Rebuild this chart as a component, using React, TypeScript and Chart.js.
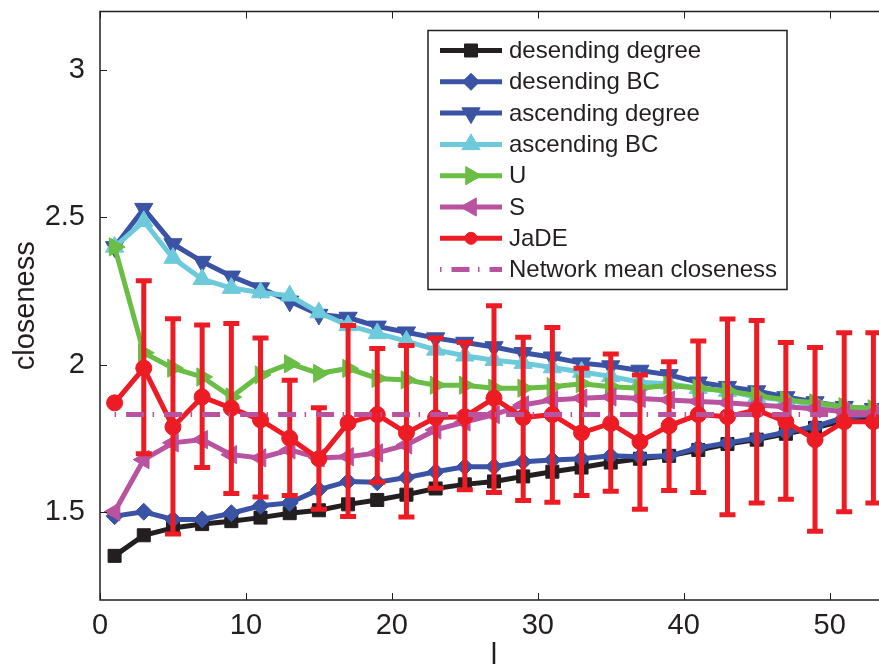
import { useEffect, useRef } from "react";
import { Chart, registerables } from "chart.js";
import { drawPoint } from "chart.js/helpers";

Chart.register(...registerables);

// ---- data ----
const lValues = [1, 3, 5, 7, 9, 11, 13, 15, 17, 19, 21, 23, 25, 27, 29, 31, 33, 35, 37, 39, 41, 43, 45, 47, 49, 51, 53];

const desendingDegree = [1.35, 1.42, 1.445, 1.458, 1.468, 1.48, 1.495, 1.505, 1.525, 1.54, 1.558, 1.579, 1.593, 1.603, 1.62, 1.636, 1.65, 1.667, 1.68, 1.69, 1.71, 1.73, 1.745, 1.765, 1.785, 1.81, 1.825];
const desendingBC = [1.485, 1.5, 1.474, 1.474, 1.495, 1.52, 1.53, 1.575, 1.603, 1.6, 1.616, 1.636, 1.653, 1.653, 1.67, 1.676, 1.68, 1.69, 1.687, 1.69, 1.717, 1.734, 1.75, 1.77, 1.79, 1.82, 1.83];
const ascendingDegree = [2.4, 2.53, 2.41, 2.35, 2.3, 2.26, 2.215, 2.17, 2.16, 2.13, 2.11, 2.09, 2.075, 2.06, 2.04, 2.025, 2.005, 1.995, 1.98, 1.965, 1.94, 1.925, 1.91, 1.89, 1.873, 1.857, 1.85];
const ascendingBC = [2.4, 2.487, 2.362, 2.29, 2.26, 2.245, 2.234, 2.177, 2.133, 2.106, 2.08, 2.05, 2.03, 2.015, 2.005, 1.99, 1.975, 1.96, 1.94, 1.935, 1.92, 1.91, 1.89, 1.88, 1.863, 1.857, 1.85];
const uValues = [2.4, 2.04, 1.988, 1.958, 1.89, 1.965, 2.003, 1.97, 1.987, 1.953, 1.948, 1.93, 1.93, 1.92, 1.92, 1.925, 1.935, 1.925, 1.92, 1.93, 1.92, 1.91, 1.895, 1.88, 1.87, 1.857, 1.85];
const sValues = [1.5, 1.677, 1.734, 1.745, 1.694, 1.683, 1.71, 1.683, 1.687, 1.7, 1.727, 1.778, 1.805, 1.83, 1.863, 1.88, 1.886, 1.89, 1.885, 1.88, 1.875, 1.87, 1.863, 1.857, 1.85, 1.84, 1.835];
const jadeValues = [1.87, 1.988, 1.788, 1.89, 1.852, 1.812, 1.75, 1.68, 1.802, 1.83, 1.768, 1.82, 1.823, 1.886, 1.82, 1.83, 1.768, 1.8, 1.738, 1.792, 1.83, 1.823, 1.846, 1.806, 1.745, 1.806, 1.806];
const jadeUpper = [1.87, 2.285, 2.156, 2.135, 2.14, 2.09, 1.947, 1.853, 2.133, 2.055, 2.065, 2.09, 2.075, 2.2, 2.093, 2.126, 1.988, 2.036, 1.965, 2.01, 2.08, 2.155, 2.15, 2.075, 2.058, 2.108, 2.108];
const jadeLower = [1.87, 1.697, 1.424, 1.65, 1.562, 1.55, 1.555, 1.508, 1.484, 1.6, 1.482, 1.58, 1.575, 1.565, 1.538, 1.532, 1.555, 1.57, 1.508, 1.572, 1.565, 1.49, 1.53, 1.542, 1.434, 1.5, 1.53];
const networkMeanCloseness = 1.83;
const meanLineRange = [1, 54];

const xTicks = [0, 10, 20, 30, 40, 50];
const yTicks = [1.5, 2, 2.5, 3];
const yTickLabels = ["1.5", "2", "2.5", "3"];

// ---- styles ----
const FONT = "'Liberation Sans', Arial, Helvetica, sans-serif";
const TEXT = "#231f20";
const BLACK = "#231f20";
const BLUE = "#3a53a4";
const CYAN = "#6dcadb";
const GREEN = "#6abd45";
const MAGENTA = "#b9529f";
const RED = "#ed1c24";
const MEAN_DASH = [1.5, 10, 18, 8.5];
const LINE_W = 5;

function series(label: string, values: number[], color: string, pointStyle: string, radius: number, rotation: number, order: number) {
  return {
    label,
    data: lValues.map((x, i) => ({ x, y: values[i] })),
    borderColor: color,
    backgroundColor: color,
    borderWidth: LINE_W,
    pointStyle,
    pointRadius: radius,
    pointRotation: rotation,
    pointBorderWidth: 1,
    pointBorderColor: color,
    pointBackgroundColor: color,
    tension: 0,
    order,
  };
}

const errorBarPlugin = {
  id: "errorBars",
  beforeDatasetDraw(chart: any, args: any) {
    const ds = chart.data.datasets[args.index];
    if (ds.label !== "JaDE") return;
    const { ctx, scales } = chart;
    const xs = scales.x;
    const ys = scales.y;
    ctx.save();
    ctx.strokeStyle = RED;
    ctx.lineWidth = LINE_W;
    ctx.lineCap = "butt";
    lValues.forEach((l, i) => {
      if (jadeUpper[i] === jadeLower[i]) return;
      const px = xs.getPixelForValue(l);
      const pt = ys.getPixelForValue(jadeUpper[i]);
      const pb = ys.getPixelForValue(jadeLower[i]);
      ctx.beginPath();
      ctx.moveTo(px, pt);
      ctx.lineTo(px, pb);
      ctx.moveTo(px - 8, pt);
      ctx.lineTo(px + 8, pt);
      ctx.moveTo(px - 8, pb);
      ctx.lineTo(px + 8, pb);
      ctx.stroke();
    });
    ctx.restore();
  },
};

const framePlugin = {
  id: "frame",
  afterDraw(chart: any) {
    const { ctx, chartArea: a, scales } = chart;
    ctx.save();
    ctx.strokeStyle = TEXT;
    ctx.lineWidth = 1.5;
    ctx.strokeRect(a.left, a.top, a.right - a.left, a.bottom - a.top);
    ctx.lineWidth = 1;
    const tl = 7;
    ctx.beginPath();
    xTicks.forEach((v) => {
      const px = Math.round(scales.x.getPixelForValue(v)) + 0.5;
      ctx.moveTo(px, a.bottom);
      ctx.lineTo(px, a.bottom - tl);
      ctx.moveTo(px, a.top);
      ctx.lineTo(px, a.top + tl);
    });
    yTicks.forEach((v) => {
      const py = Math.round(scales.y.getPixelForValue(v)) + 0.5;
      ctx.moveTo(a.left, py);
      ctx.lineTo(a.left + tl, py);
      ctx.moveTo(a.right, py);
      ctx.lineTo(a.right - tl, py);
    });
    ctx.stroke();
    ctx.restore();
  },
};

const legendPlugin = {
  id: "matlabLegend",
  afterDraw(chart: any) {
    const { ctx, chartArea: a } = chart;
    const left = a.left + 328;
    const top = a.top + 19;
    const w = 359;
    const h = 259;
    const rowH = 31.3;
    ctx.save();
    ctx.fillStyle = "#ffffff";
    ctx.fillRect(left, top, w, h);
    ctx.strokeStyle = TEXT;
    ctx.lineWidth = 1.5;
    ctx.strokeRect(left, top, w, h);
    chart.data.datasets.forEach((ds: any, i: number) => {
      const cy = top + 20 + i * rowH;
      const x0 = left + 12;
      const x1 = left + 74;
      ctx.save();
      ctx.strokeStyle = ds.borderColor;
      ctx.lineWidth = LINE_W;
      if (ds.borderDash && ds.borderDash.length) {
        ctx.setLineDash(ds.borderDash);
        ctx.lineDashOffset = 0;
      }
      ctx.beginPath();
      ctx.moveTo(x0, cy);
      ctx.lineTo(x1, cy);
      ctx.stroke();
      ctx.setLineDash([]);
      if (ds.pointRadius > 0) {
        ctx.fillStyle = ds.backgroundColor;
        ctx.strokeStyle = ds.borderColor;
        ctx.lineWidth = 1;
        const r = ds.pointStyle === "circle" ? ds.pointRadius * 0.75 : ds.pointRadius;
        drawPoint(ctx, { pointStyle: ds.pointStyle, rotation: ds.pointRotation || 0, radius: r, borderWidth: 1 }, (x0 + x1) / 2, cy);
      }
      ctx.restore();
      ctx.fillStyle = TEXT;
      ctx.font = `24px ${FONT}`;
      ctx.textBaseline = "middle";
      ctx.textAlign = "left";
      ctx.fillText(ds.label, left + 81, cy + 1);
    });
    ctx.restore();
  },
};

export default function App() {
  const ref = useRef<HTMLCanvasElement | null>(null);

  useEffect(() => {
    if (!ref.current) return;
    const tickFont = { family: FONT, size: 29 };
    const chart = new Chart(ref.current, {
      type: "line",
      data: {
        datasets: [
          series("desending degree", desendingDegree, BLACK, "rect", 9.2, 0, 8),
          series("desending BC", desendingBC, BLUE, "rectRot", 8.5, 0, 7),
          series("ascending degree", ascendingDegree, BLUE, "triangle", 10.5, 180, 6),
          series("ascending BC", ascendingBC, CYAN, "triangle", 10.5, 0, 5),
          series("U", uValues, GREEN, "triangle", 10.5, 90, 4),
          series("S", sValues, MAGENTA, "triangle", 10.5, 270, 3),
          series("JaDE", jadeValues, RED, "circle", 8, 0, 2),
          {
            label: "Network mean closeness",
            data: meanLineRange.map((x) => ({ x, y: networkMeanCloseness })),
            borderColor: MAGENTA,
            backgroundColor: MAGENTA,
            borderWidth: LINE_W,
            borderDash: MEAN_DASH,
            pointRadius: 0,
            order: 1,
          } as any,
        ] as any,
      },
      options: {
        responsive: false,
        animation: false,
        devicePixelRatio: 1,
        layout: { padding: { top: 10, right: 12, left: 0, bottom: 0 } },
        plugins: { legend: { display: false }, tooltip: { enabled: false } },
        scales: {
          x: {
            type: "linear",
            min: 0,
            max: 54,
            afterBuildTicks: (s: any) => {
              s.ticks = xTicks.map((v) => ({ value: v }));
            },
            afterFit: (s: any) => {
              s.height = 90;
              s.paddingLeft = 0;
              s.paddingRight = 0;
            },
            grid: { display: false, drawTicks: false },
            border: { display: false },
            ticks: {
              font: tickFont,
              color: TEXT,
              padding: 9,
              maxRotation: 0,
              autoSkip: false,
              callback: (v: any) => String(v),
            },
            title: {
              display: true,
              text: "l",
              font: tickFont,
              color: TEXT,
              padding: { top: 0, bottom: 17 },
            },
          },
          y: {
            type: "linear",
            min: 1.2,
            max: 3.2,
            afterBuildTicks: (s: any) => {
              s.ticks = yTicks.map((v) => ({ value: v }));
            },
            afterFit: (s: any) => {
              s.width = 100;
              s.paddingTop = 0;
              s.paddingBottom = 0;
            },
            grid: { display: false, drawTicks: false },
            border: { display: false },
            ticks: {
              font: tickFont,
              color: TEXT,
              padding: 15,
              autoSkip: false,
              callback: (v: any) => {
                const i = yTicks.indexOf(Number(v));
                return i >= 0 ? yTickLabels[i] : "";
              },
            },
            title: {
              display: true,
              text: "closeness",
              font: tickFont,
              color: TEXT,
              padding: { top: 9, bottom: 0 },
            },
          },
        },
      } as any,
      plugins: [errorBarPlugin, framePlugin, legendPlugin],
    });
    return () => chart.destroy();
  }, []);

  return (
    <div style={{ position: "fixed", left: 0, top: 0, width: 879, height: 664, overflow: "hidden", background: "#ffffff" }}>
      <canvas ref={ref} width={900} height={690} style={{ display: "block", width: 900, height: 690 }} />
    </div>
  );
}
